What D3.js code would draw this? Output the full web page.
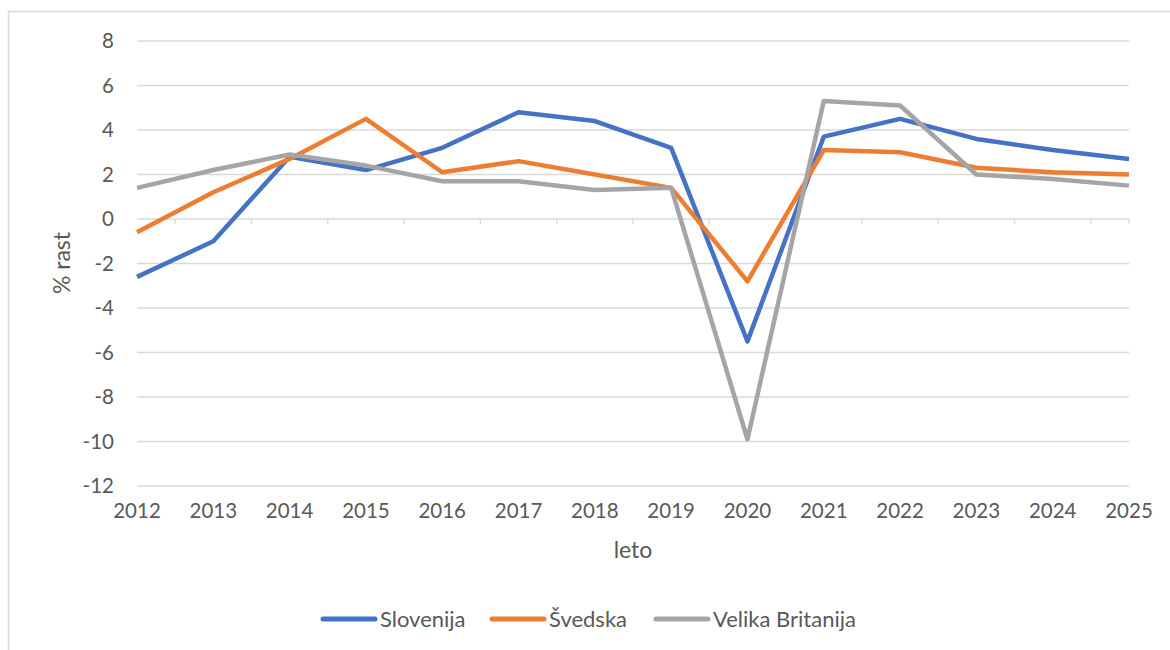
<!DOCTYPE html>
<html>
<head>
<meta charset="utf-8">
<script src="https://cdn.jsdelivr.net/npm/d3@7"></script>
<style>
  body { margin: 0; background: #fff; }
  svg text { font-family: Lato, "Open Sans", sans-serif; fill: #595959; }
</style>
</head>
<body>
<svg id="chart" width="1170" height="650"></svg>
<script>
"use strict"

const years = [2012, 2013, 2014, 2015, 2016, 2017, 2018, 2019, 2020, 2021, 2022, 2023, 2024, 2025]
const slovenija = [-2.6, -1.0, 2.8, 2.2, 3.2, 4.8, 4.4, 3.2, -5.5, 3.7, 4.5, 3.6, 3.1, 2.7]
const svedska = [-0.6, 1.2, 2.7, 4.5, 2.1, 2.6, 2.0, 1.4, -2.8, 3.1, 3.0, 2.3, 2.1, 2.0]
const velikaBritanija = [1.4, 2.2, 2.9, 2.4, 1.7, 1.7, 1.3, 1.4, -9.9, 5.3, 5.1, 2.0, 1.8, 1.5]
const yTicks = [8, 6, 4, 2, 0, -2, -4, -6, -8, -10, -12]

const series = [
  {name: 'Slovenija', values: slovenija, color: '#4472C4'},
  {name: 'Švedska', values: svedska, color: '#ED7D31'},
  {name: 'Velika Britanija', values: velikaBritanija, color: '#A5A5A5'},
]

const svg = d3.select('#chart')
const plot = {left: 137, right: 1129, top: 41, bottom: 486}

// outer chart frame (partly cut off by the screenshot)
svg.append('rect')
  .attr('x', 8.5).attr('y', 11.5).attr('width', 1300).attr('height', 800)
  .attr('fill', 'none').attr('stroke', '#d9d9d9').attr('stroke-width', 1.5)

const x = d3.scalePoint().domain(years).range([plot.left, plot.right])
const y = d3.scaleLinear().domain([-12, 8]).range([plot.bottom, plot.top])

// gridlines
svg.append('g').selectAll('line')
  .data(yTicks.filter(d => d !== 0))
  .enter().append('line')
    .attr('x1', plot.left).attr('x2', plot.right)
    .attr('y1', d => y(d)).attr('y2', d => y(d))
    .attr('stroke', '#d9d9d9').attr('stroke-width', 1.3)

// y labels
svg.append('g').selectAll('text')
  .data(yTicks)
  .enter().append('text')
    .attr('x', 114).attr('y', d => y(d))
    .attr('dy', '0.36em')
    .attr('text-anchor', 'end')
    .style('font-size', '20.5px')
    .text(d => d)

// category axis at zero, ticks between categories
const step = x.step()
const zeroY = y(0)
svg.append('line')
  .attr('x1', plot.left).attr('x2', plot.right)
  .attr('y1', zeroY).attr('y2', zeroY)
  .attr('stroke', '#d9d9d9').attr('stroke-width', 1.3)
const tickXs = years.slice(0, -1).map(d => x(d) + step / 2).concat([plot.right])
svg.append('g').selectAll('line')
  .data(tickXs)
  .enter().append('line')
    .attr('x1', d => d).attr('x2', d => d)
    .attr('y1', zeroY).attr('y2', zeroY + 5)
    .attr('stroke', '#d9d9d9').attr('stroke-width', 1.3)

// x labels (at bottom)
svg.append('g').selectAll('text')
  .data(years)
  .enter().append('text')
    .attr('x', d => x(d)).attr('y', 518)
    .attr('text-anchor', 'middle')
    .style('font-size', '20.5px')
    .text(d => d)

// axis titles
svg.append('text')
  .attr('x', 633).attr('y', 558)
  .attr('text-anchor', 'middle')
  .style('font-size', '23px')
  .text('leto')
svg.append('text')
  .attr('transform', `translate(70,263) rotate(-90)`)
  .attr('text-anchor', 'middle')
  .style('font-size', '23px')
  .text('% rast')

// lines
const line = d3.line()
  .x((d, i) => x(years[i]))
  .y(d => y(d))
svg.append('g').selectAll('path')
  .data(series)
  .enter().append('path')
    .attr('d', s => line(s.values))
    .attr('fill', 'none')
    .attr('stroke', s => s.color)
    .attr('stroke-width', 4.5)
    .attr('stroke-linejoin', 'round')

// legend
const legendX = [323, 492, 656]
const legend = svg.append('g').selectAll('g')
  .data(series)
  .enter().append('g')
    .attr('transform', (s, i) => `translate(${legendX[i]},619)`)
legend.append('line')
  .attr('x1', 0).attr('x2', 52)
  .attr('stroke', s => s.color).attr('stroke-width', 5)
  .attr('stroke-linecap', 'round')
legend.append('text')
  .attr('x', 57).attr('dy', '0.36em')
  .style('font-size', '22px')
  .text(s => s.name)
</script>
</body>
</html>
